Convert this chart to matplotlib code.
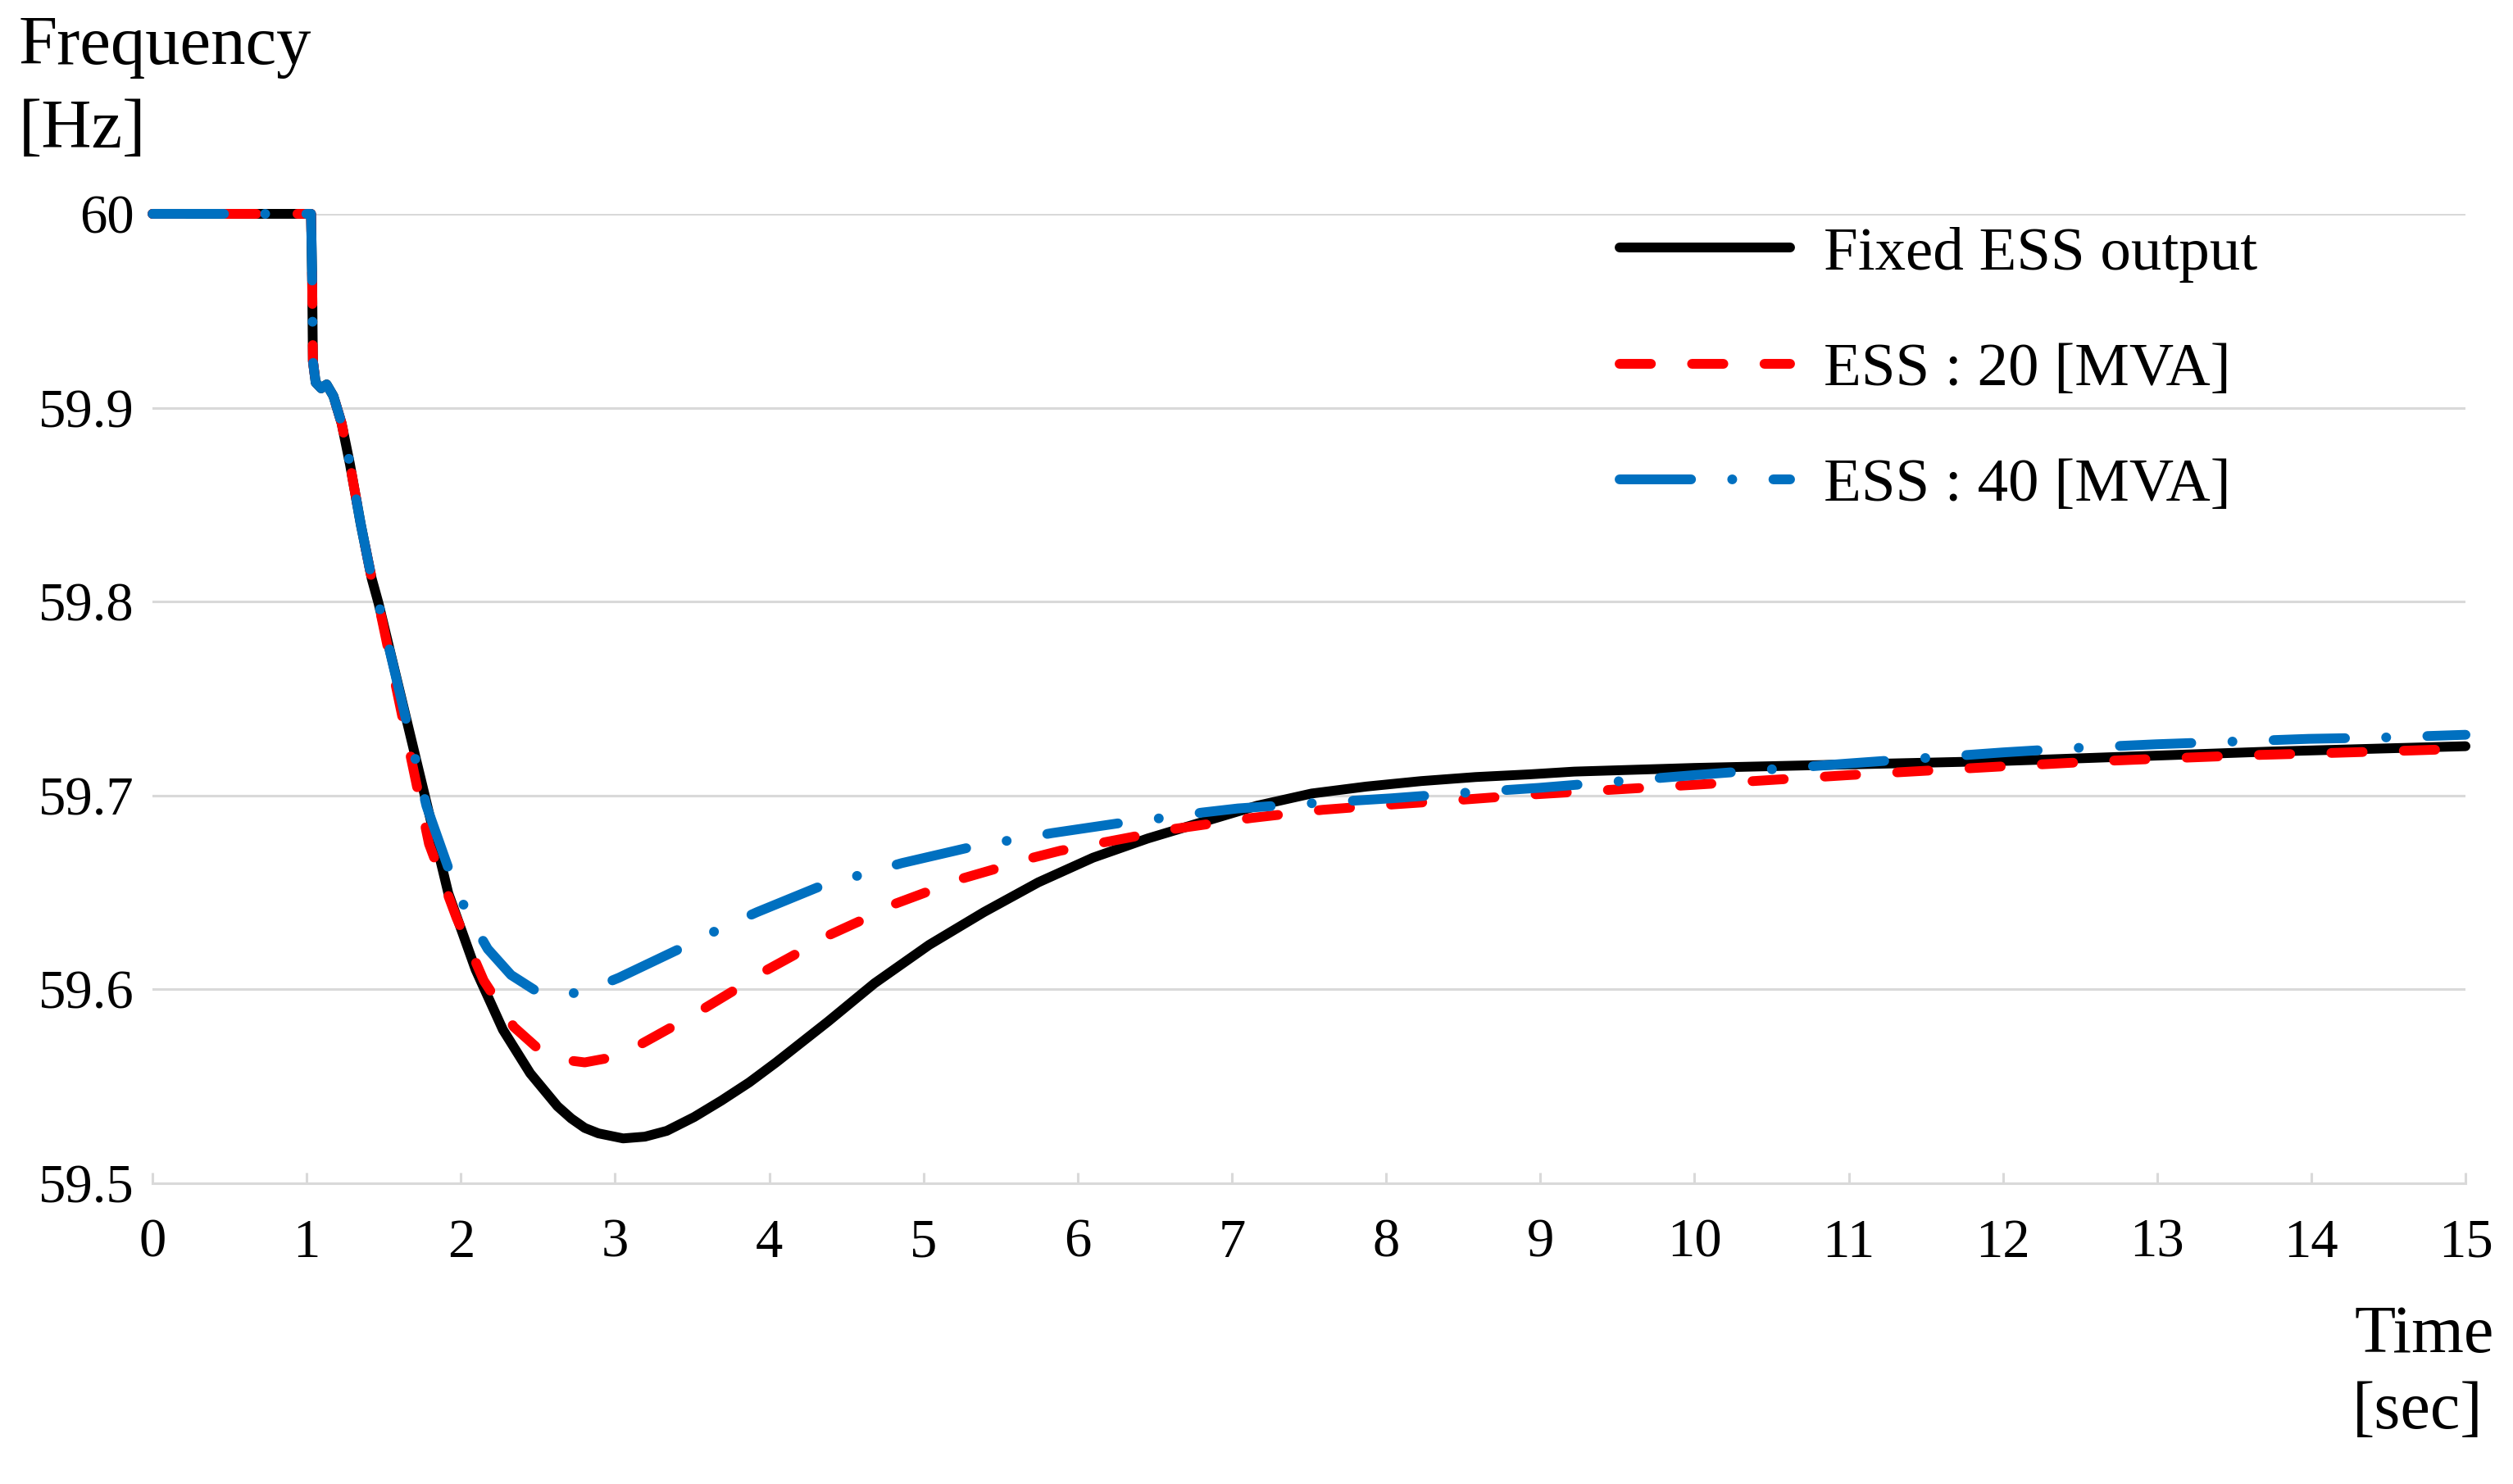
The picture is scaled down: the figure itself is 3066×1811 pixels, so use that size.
import matplotlib
matplotlib.use("Agg")
import matplotlib.pyplot as plt
from matplotlib.lines import Line2D

plt.rcParams['font.family'] = ['Liberation Serif', 'DejaVu Serif']

# frequency response after the disturbance at t = 1 s
t_start = [0.0, 1.028, 1.035, 1.040, 1.058, 1.094, 1.129, 1.173, 1.226, 1.280, 1.350, 1.421, 1.466]
f_start = [60.0, 60.0, 59.967, 59.924, 59.913, 59.910, 59.912, 59.906, 59.892, 59.871, 59.840, 59.812, 59.799]

t_fixed = [1.722, 1.918, 2.095, 2.272, 2.449, 2.626, 2.715, 2.803, 2.892, 3.052, 3.193, 3.335,
           3.512, 3.689, 3.870, 4.044, 4.381, 4.682, 5.036, 5.391, 5.745, 6.099, 6.454, 6.809, 7.163,
           7.517, 7.872, 8.226, 8.581, 8.935, 9.219, 10.0, 11.0, 12.0, 12.302, 13.720, 15.0]
f_fixed = [59.7017, 59.6496, 59.6102, 59.5792, 59.5567, 59.5397, 59.5334, 59.5285, 59.5257, 59.5231,
           59.5240, 59.5270, 59.5341, 59.5426, 59.5520, 59.5623, 59.5834, 59.6031, 59.6229, 59.6398,
           59.6552, 59.6679, 59.6778, 59.6863, 59.6947, 59.7010, 59.7046, 59.7074, 59.7095, 59.7109,
           59.7123, 59.7142, 59.7160, 59.7178, 59.7186, 59.7226, 59.7254]

t_ess20 = [1.722, 1.793, 1.971, 2.148, 2.343, 2.502, 2.662, 2.803, 2.945, 3.176, 3.353, 3.583,
           3.760, 3.973, 4.150, 4.363, 4.576, 4.788, 5.001, 5.231, 5.444, 5.674, 5.887, 6.117,
           6.348, 6.560, 6.791, 7.128, 7.588, 8.049, 8.510, 8.970, 10.0, 11.0, 12.0, 12.692,
           13.153, 13.614, 14.074, 14.535, 15.0]
f_ess20 = [59.7017, 59.675, 59.637, 59.6045, 59.5806, 59.5693, 59.5637, 59.5623, 59.5644, 59.5721,
           59.5799, 59.5904, 59.5989, 59.6095, 59.6172, 59.6271, 59.6348, 59.6433, 59.6496, 59.6567,
           59.6616, 59.6672, 59.6715, 59.6750, 59.6785, 59.6820, 59.6846, 59.6884, 59.6926, 59.6954,
           59.6979, 59.7006, 59.7055, 59.7105, 59.7150, 59.7179, 59.7194, 59.7208, 59.7218, 59.7229,
           59.7241]

t_ess40 = [1.722, 1.776, 1.935, 2.041, 2.174, 2.325, 2.520, 2.786, 3.025, 3.450, 3.681, 3.920,
           4.310, 4.611, 4.859, 5.320, 5.577, 5.834, 6.295, 6.551, 6.809, 7.039, 7.539, 8.031,
           8.531, 8.988, 10.0, 11.0, 12.0, 12.497, 12.993, 13.489, 13.985, 14.472, 15.0]
f_ess40 = [59.7017, 59.6947, 59.6588, 59.6391, 59.6208, 59.6074, 59.5975, 59.5982, 59.6060, 59.6221,
           59.6313, 59.6398, 59.6525, 59.6595, 59.6651, 59.6736, 59.6771, 59.6806, 59.6860, 59.6884,
           59.6912, 59.6933, 59.6961, 59.6985, 59.7015, 59.7039, 59.7105, 59.7165, 59.7222, 59.7246,
           59.7264, 59.7278, 59.7292, 59.7299, 59.7313]

labels = ['Fixed ESS output', 'ESS : 20 [MVA]', 'ESS : 40 [MVA]']
colors = ['#000000', '#ff0000', '#0070c0']
x_ticks = list(range(0, 16))
y_ticks = [59.5, 59.6, 59.7, 59.8, 59.9, 60.0]
y_tick_labels = ['59.5', '59.6', '59.7', '59.8', '59.9', '60']

LW = 8.6
dash_styles = [None, (3.2, 4.2), (7.3, 4.2, 0.01, 4.2)]

fig = plt.figure(figsize=(30.66, 18.11), dpi=100)
ax = fig.add_axes([0.0607, 0.2027, 0.9811 - 0.0607, 0.8559 - 0.2027])

series = [(t_fixed, f_fixed), (t_ess20, f_ess20), (t_ess40, f_ess40)]
handles = []
for (ts, fs), col, ds, lab in zip(series, colors, dash_styles, labels):
    tt = t_start + ts[1:]
    ff = f_start + fs[1:]
    line, = ax.plot(tt, ff, color=col, lw=LW, clip_on=False,
                    solid_capstyle='round', solid_joinstyle='round',
                    dash_capstyle='round', dash_joinstyle='round', zorder=3)
    if ds is not None:
        line.set_dashes(ds)
    h = Line2D([], [], color=col, lw=LW, solid_capstyle='round', dash_capstyle='round')
    if ds is not None:
        h.set_dashes(ds)
    handles.append(h)

ax.set_xlim(0, 15)
ax.set_ylim(59.5, 60)
ax.set_xticks(x_ticks)
ax.set_xticklabels([str(v) for v in x_ticks])
ax.set_yticks(y_ticks)
ax.set_yticklabels(y_tick_labels)

ax.grid(axis='y', color='#d9d9d9', lw=2.2, zorder=0)
for s in ['top', 'right', 'left']:
    ax.spines[s].set_visible(False)
ax.spines['bottom'].set_color('#d9d9d9')
ax.spines['bottom'].set_linewidth(2.2)
ax.tick_params(axis='x', direction='in', length=9.5, width=2.2, color='#d9d9d9',
               labelsize=48, pad=31)
ax.tick_params(axis='y', length=0, labelsize=48, pad=16)

fig.text(23 / 3066, 1 - 78 / 1811, 'Frequency', fontsize=61, ha='left', va='baseline')
fig.text(23 / 3066, 1 - 180 / 1811, '[Hz]', fontsize=61, ha='left', va='baseline')
fig.text(2958 / 3066, 1 - 1650 / 1811, 'Time', fontsize=59, ha='center', va='baseline')
fig.text(2950 / 3066, 1 - 1743 / 1811, '[sec]', fontsize=59, ha='center', va='baseline')

ax.legend(handles, labels, loc='upper left', bbox_to_anchor=(1976 / 3066, 1 - 276 / 1811),
          bbox_transform=fig.transFigure, frameon=False, fontsize=54,
          handlelength=2.77, handletextpad=0.55, labelspacing=0.97,
          borderpad=0, borderaxespad=0)

fig.savefig('out.png', dpi=100)
